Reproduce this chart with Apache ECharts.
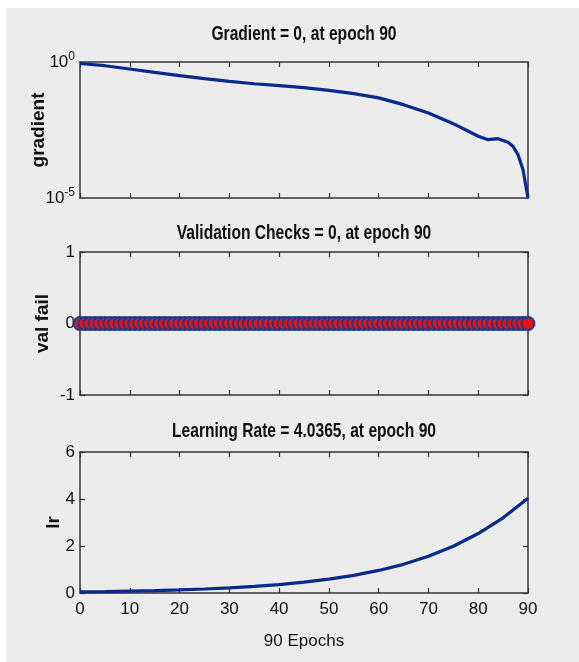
<!DOCTYPE html>
<html>
<head>
<meta charset="utf-8">
<script src="https://cdn.jsdelivr.net/npm/echarts@6/dist/echarts.min.js"></script>
<style>
html, body { margin: 0; padding: 0; background: #fff; }
#bg { position: absolute; left: 6px; top: 8px; width: 573px; height: 654px; background: #ececec; }
#main { position: absolute; left: 0; top: 0; width: 579px; height: 662px; }
</style>
</head>
<body>
<div id="bg"></div>
<div id="main"></div>
<script>
// gradient (log scale)
var gradEpochs = [0, 5, 10, 15, 20, 25, 30, 35, 40, 45, 50, 55, 60, 65, 70, 75, 80, 82, 84, 86, 87, 88, 89, 90];
var gradValues = [0.88, 0.73, 0.553, 0.417, 0.315, 0.244, 0.195, 0.159, 0.135, 0.114, 0.091, 0.069,
                  0.048, 0.027, 0.0133, 0.0054, 0.00186, 0.00139, 0.00152, 0.00112, 0.00079, 0.00039, 0.00011, 0.00001];

// validation checks, one per epoch 0..90
var valFail = [
  0, 0, 0, 0, 0, 0, 0, 0, 0, 0,
  0, 0, 0, 0, 0, 0, 0, 0, 0, 0,
  0, 0, 0, 0, 0, 0, 0, 0, 0, 0,
  0, 0, 0, 0, 0, 0, 0, 0, 0, 0,
  0, 0, 0, 0, 0, 0, 0, 0, 0, 0,
  0, 0, 0, 0, 0, 0, 0, 0, 0, 0,
  0, 0, 0, 0, 0, 0, 0, 0, 0, 0,
  0, 0, 0, 0, 0, 0, 0, 0, 0, 0,
  0, 0, 0, 0, 0, 0, 0, 0, 0, 0,
  0
];

// learning rate
var lrEpochs = [0, 5, 10, 15, 20, 25, 30, 35, 40, 45, 50, 55, 60, 65, 70, 75, 80, 85, 90];
var lrValues = [0.05, 0.06, 0.08, 0.1, 0.13, 0.17, 0.22, 0.28, 0.36, 0.46, 0.59, 0.75, 0.96, 1.22, 1.56, 1.99, 2.53, 3.2, 4.0365];

var titles = ['Gradient = 0, at epoch 90', 'Validation Checks = 0, at epoch 90', 'Learning Rate = 4.0365, at epoch 90'];

var FONT = "'Liberation Sans', Arial, sans-serif";
var BOX = '#353535';
var BLUE = '#082a8e';

var myChart = echarts.init(document.getElementById('main'));

function pairs(xs, ys) {
    var out = [];
    for (var i = 0; i < ys.length; i++) out.push([xs[i], ys[i]]);
    return out;
}
var valData = [];
for (var e = 0; e < valFail.length; e++) valData.push([e, valFail[e]]);

function xAx(g, pos, labels, name) {
    return {
        type: 'value', gridIndex: g, position: pos, min: 0, max: 90, interval: 10,
        axisLine: { show: true, onZero: false, lineStyle: { color: BOX, width: 1.5 } },
        axisTick: { show: true, inside: true, length: 5, lineStyle: { color: BOX, width: 1.2 } },
        axisLabel: { show: labels, color: '#111', fontFamily: FONT, fontSize: 17, margin: 8 },
        splitLine: { show: false },
        name: name || '', nameLocation: 'middle', nameGap: 40, nameMoveOverlap: false,
        nameTextStyle: { color: '#111', fontFamily: FONT, fontSize: 17 }
    };
}
function yAx(g, pos, opts, labels, name, gap) {
    var a = {
        type: 'value', gridIndex: g, position: pos,
        axisLine: { show: true, onZero: false, lineStyle: { color: BOX, width: 1.5 } },
        axisTick: { show: true, inside: true, length: 5, lineStyle: { color: BOX, width: 1.2 } },
        axisLabel: { show: labels, color: '#111', fontFamily: FONT, fontSize: 17, margin: 5 },
        splitLine: { show: false },
        name: name || '', nameLocation: 'middle', nameGap: gap || 30, nameMoveOverlap: false,
        nameTextStyle: { color: '#111', fontFamily: FONT, fontWeight: 'bold', fontSize: 19 }
    };
    for (var k in opts) a[k] = opts[k];
    return a;
}

var logOpts = {
    type: 'log', logBase: 10, min: 0.00001, max: 1,
    axisTick: { show: false },
    axisLabel: {
        show: true, margin: 5,
        formatter: function (v) {
            var p = Math.round(Math.log10(v));
            if (p === 0 || p === -5) return '{b|10}{s|' + p + '}';
            return '';
        },
        rich: {
            b: { fontFamily: FONT, fontSize: 17, color: '#111' },
            s: { fontFamily: FONT, fontSize: 12, color: '#111', padding: [0, 0, 11, 0] }
        }
    }
};

var option = {
    animation: false,
    backgroundColor: 'transparent',
    graphic: titles.map(function (t, i) {
        return {
            type: 'text', x: 304, y: [34, 233, 431][i], scaleX: 0.78,
            style: {
                text: t, align: 'center', verticalAlign: 'middle',
                fontFamily: FONT, fontWeight: 'bold', fontSize: 20, fill: '#111'
            }
        };
    }),
    grid: [
        { left: 80, width: 448, top: 62, height: 136 },
        { left: 80, width: 448, top: 252, height: 143 },
        { left: 80, width: 448, top: 452, height: 141 }
    ],
    xAxis: [
        xAx(0, 'bottom', false), xAx(0, 'top', false),
        xAx(1, 'bottom', false), xAx(1, 'top', false),
        xAx(2, 'bottom', true, '90 Epochs'), xAx(2, 'top', false)
    ],
    yAxis: [
        yAx(0, 'left', logOpts, true, 'gradient', 32),
        yAx(0, 'right', { type: 'log', logBase: 10, min: 0.00001, max: 1, axisTick: { show: false } }, false),
        yAx(1, 'left', { min: -1, max: 1, interval: 1 }, true, 'val fail', 28),
        yAx(1, 'right', { min: -1, max: 1, interval: 1 }, false),
        yAx(2, 'left', { min: 0, max: 6, interval: 2 }, true, 'lr', 17),
        yAx(2, 'right', { min: 0, max: 6, interval: 2 }, false)
    ],
    series: [
        {
            type: 'line', xAxisIndex: 0, yAxisIndex: 0, data: pairs(gradEpochs, gradValues),
            showSymbol: false, lineStyle: { color: BLUE, width: 3.2 }
        },
        {
            type: 'line', xAxisIndex: 2, yAxisIndex: 2, data: valData, clip: false,
            symbol: 'circle', symbolSize: 13,
            itemStyle: { color: '#ee0f0f', borderColor: '#0a3f9e', borderWidth: 1.8 },
            lineStyle: { color: '#0a3f9e', width: 2 }
        },
        {
            type: 'line', xAxisIndex: 4, yAxisIndex: 4, data: pairs(lrEpochs, lrValues),
            showSymbol: false, lineStyle: { color: BLUE, width: 3.2 }
        }
    ]
};

myChart.setOption(option);
</script>
</body>
</html>
